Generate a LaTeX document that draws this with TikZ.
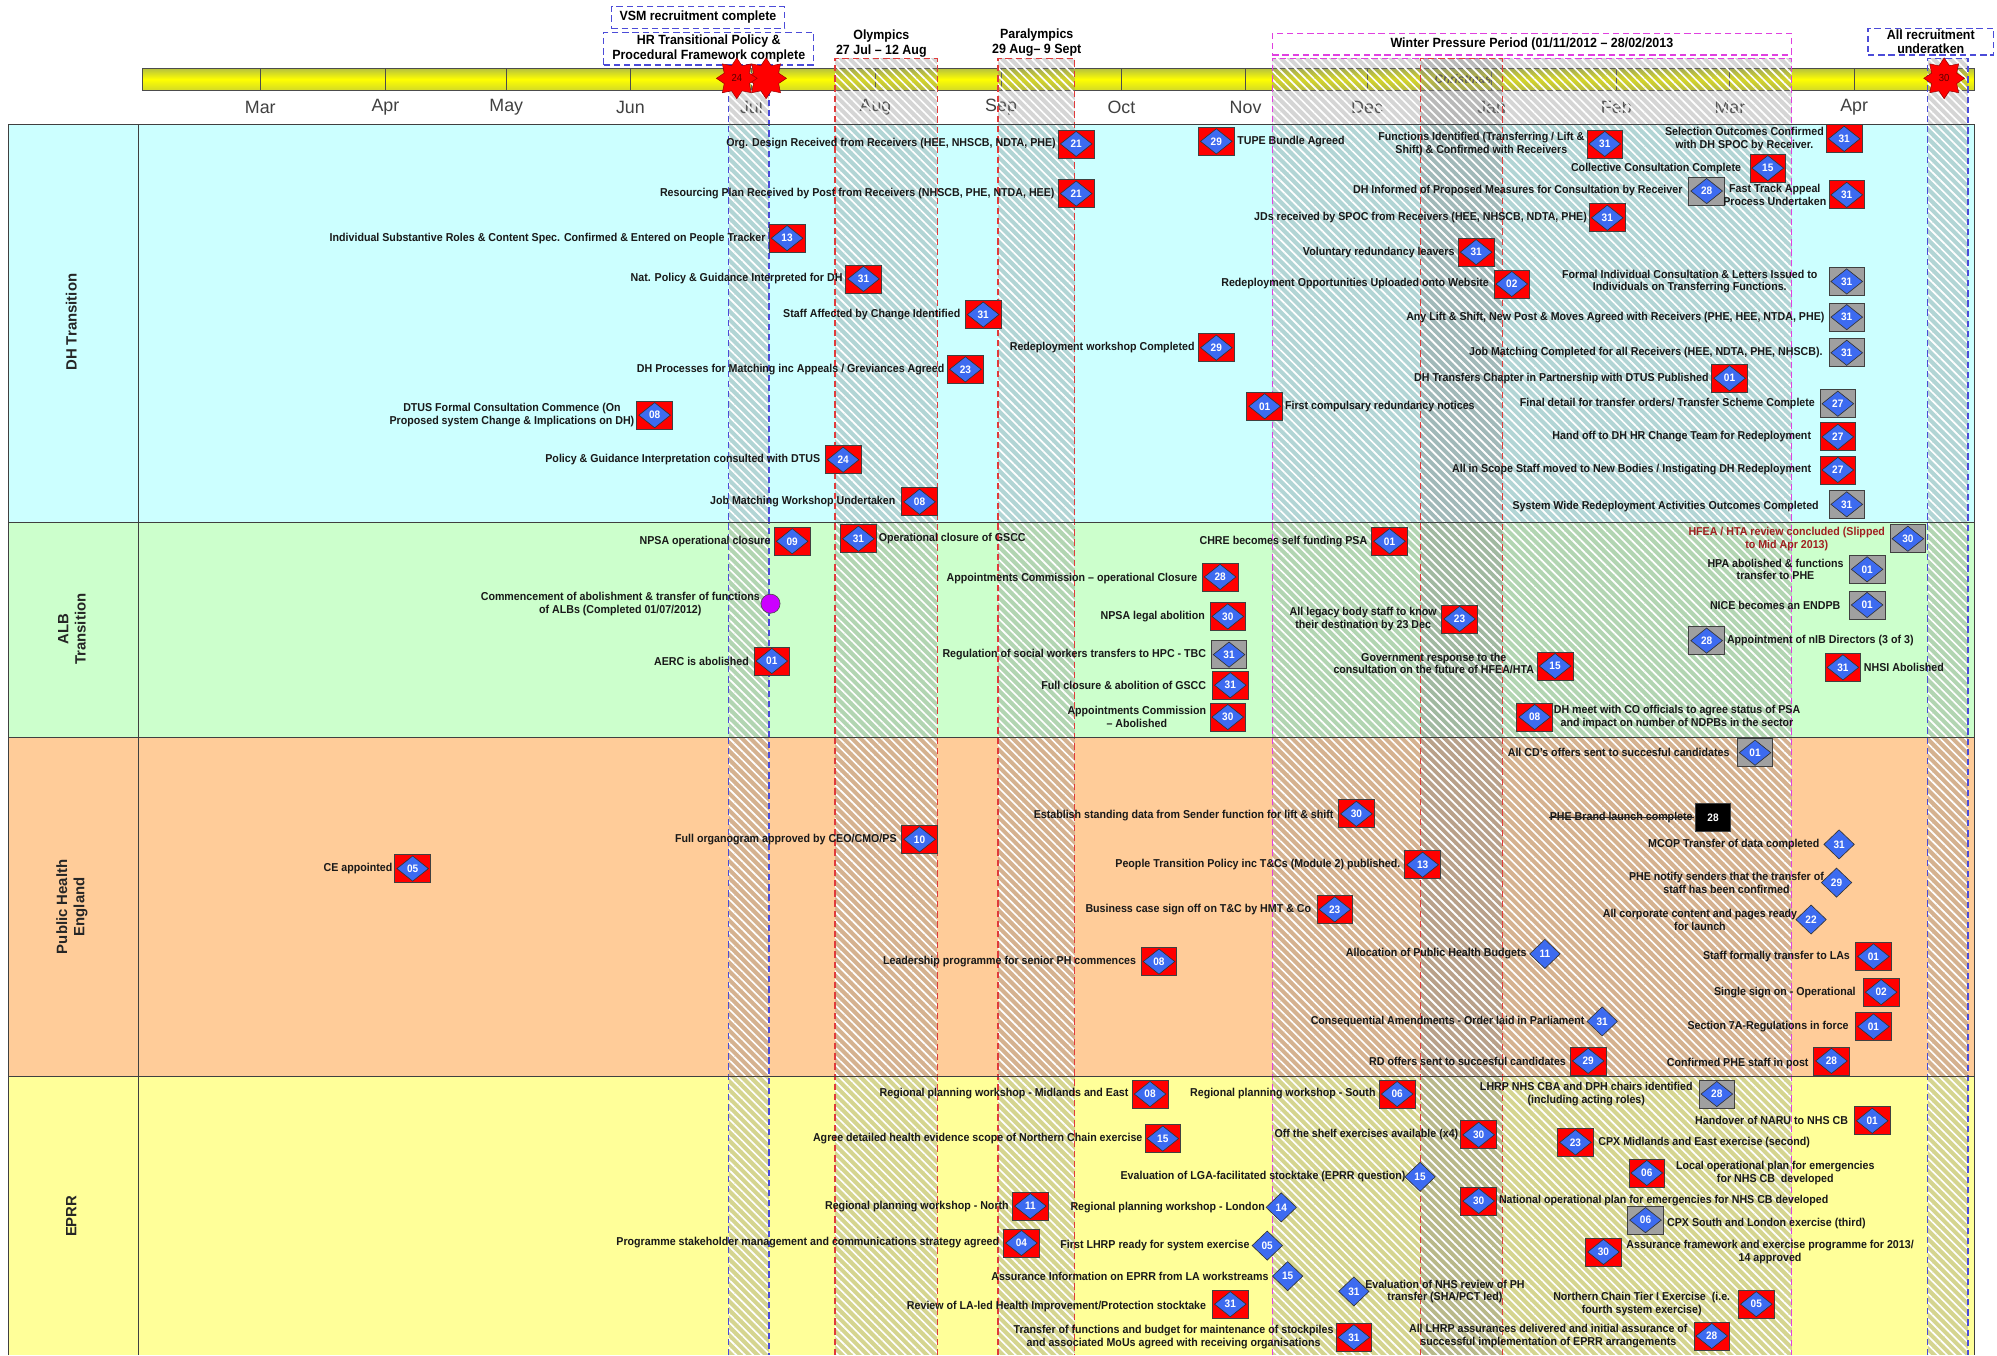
\documentclass[tikz,border=0pt]{standalone}
\usepackage{fontspec}
\usetikzlibrary{positioning, shapes.geometric, patterns.meta}

\newfontfamily\lblfam{Liberation Sans}[FakeStretch=0.93]
\newfontfamily\plainfam{Liberation Sans}

\newcommand{\lblfont}{\lblfam\bfseries\fontsize{9}{10}\selectfont}
\newcommand{\numfont}{\lblfam\bfseries\fontsize{8.5}{9}\selectfont}
\newcommand{\hdrfont}{\lblfam\bfseries\fontsize{10.5}{11.6}\selectfont}
\newcommand{\monfont}{\plainfam\fontsize{14}{16}\selectfont}
\newcommand{\lanefont}{\plainfam\bfseries\fontsize{11.7}{13.5}\selectfont}

\definecolor{dhcol}{HTML}{CCFFFF}
\definecolor{albcol}{HTML}{CCFFCC}
\definecolor{phecol}{HTML}{FFCC99}
\definecolor{eprrcol}{HTML}{FFFF99}
\definecolor{msred}{HTML}{FF0000}
\definecolor{msgrey}{HTML}{A0A0A0}
\definecolor{msblue}{HTML}{3D6BF0}
\definecolor{vsmblue}{HTML}{4B4BD8}
\definecolor{olyred}{HTML}{E03A3A}
\definecolor{wintermag}{HTML}{E040E0}
\definecolor{slipred}{HTML}{A02020}
\definecolor{barolive}{HTML}{B4C040}
\definecolor{albmag}{HTML}{CC00FF}

\tikzset{
  msbox/.style={draw=black!75, line width=0.6pt, minimum width=28pt, minimum height=22pt, inner sep=0pt},
  msdia/.style={diamond, draw=black!80, fill=msblue, line width=0.5pt, minimum width=25pt, minimum height=20pt, inner sep=0pt, text=white, font=\numfont},
  lonedia/.style={msdia, minimum width=24pt, minimum height=23pt},
  lbl/.style={font=\lblfont, text=black!90, inner sep=0.5pt, align=center},
  hdrbox/.style={font=\hdrfont, draw=#1, line width=1pt, dash pattern=on 5pt off 3pt, fill=white, inner sep=0.5pt, align=center},
  band/.style={line width=1pt, dash pattern=on 5pt off 3pt},
  lane/.style={draw=black!75, line width=1pt},
  redstar/.style={star, star points=8, star point ratio=1.5, minimum size=32pt, inner sep=0pt, fill=red, draw=red!60!black, text=red!35!black, font=\lblfam\fontsize{8}{8}\selectfont},
  lanelbl/.style={font=\lanefont, text=black!85, rotate=90, align=center},
  monthlbl/.style={font=\monfont, text=black!75}
}

% milestone: name, position, number, box colour
\newcommand{\mstone}[4]{%
  \node[msbox, fill=#4] (#1) at (#2) {};
  \node[msdia] (#1n) at (#1.center) {#3};}

\begin{document}
\begin{tikzpicture}[x=1pt, y=-1pt]
\useasboundingbox (0,0) rectangle (1568,1064);

% swim lanes
\fill[dhcol] (6.7,97.6) rectangle (1550.3,410);
\fill[albcol] (6.7,410) rectangle (1550.3,579);
\fill[phecol] (6.7,579) rectangle (1550.3,845.4);
\fill[eprrcol] (6.7,845.4) rectangle (1550.3,1064);

% timeline bar
\shade[top color=barolive, bottom color=barolive!60!yellow, middle color=yellow] (111.7,53.5) rectangle (1550.3,71);
\draw[black!70, line width=0.8pt] (111.7,53.5) rectangle (1550.3,71);
\foreach \mx/\mn [count=\i] in {204.4/Mar, 302.6/Apr, 397.5/May, 495/Jun, 590/Jul, 687.4/Aug, 786/Sep, 880.5/Oct, 978/Nov, 1073.4/Dec, 1171.2/Jan, 1269.1/Feb, 1358.3/Mar, 1455.8/Apr} {
  \draw[black!70, line width=0.8pt] (\mx,53.5) -- (\mx,71);
  \node[monthlbl] (mon\i) at (\mx,84.4) {\mn};
}
\node[font=\lblfam\bfseries\itshape\fontsize{9.8}{10}\selectfont, text=black!80!olive] (xmas) at (1148.8,61.8) {Christmas};

% hatched periods
\foreach \xa/\xb/\ya/\cc in {572.2/603.9/51/vsmblue, 655.7/735.9/45.8/olyred, 783.6/843.7/45.8/olyred, 999/1406.7/45.8/wintermag, 1115.4/1179.6/45.8/olyred, 1513.6/1545.3/45.8/vsmblue} {
  \fill[gray, fill opacity=0.33] (\xa,\ya) rectangle (\xb,1064);
  \fill[pattern={Lines[angle=-45, distance=4.7pt, line width=1.3pt]}, pattern color=white, fill opacity=0.7] (\xa,\ya) rectangle (\xb,1064);
  \draw[\cc, band] (\xa,1064) -- (\xa,\ya) -- (\xb,\ya) -- (\xb,1064);
}

% lane borders
\draw[lane] (6.7,1064) -- (6.7,97.6) -- (1550.3,97.6) -- (1550.3,1064);
\draw[lane] (108.6,97.6) -- (108.6,1064);
\draw[lane] (6.7,410) -- (1550.3,410);
\draw[lane] (6.7,579) -- (1550.3,579);
\draw[lane] (6.7,845.4) -- (1550.3,845.4);

\node[lanelbl] (lane1) at (56,253) {DH Transition};
\node[lanelbl] (lane2) at (56.5,494) {ALB\\Transition};
\node[lanelbl] (lane3) at (56.5,712) {Public Health\\England};
\node[lanelbl] (lane4) at (56,955) {EPRR};

% header
\node[hdrbox=vsmblue, minimum width=136pt, minimum height=17pt] (vsm) at (548,13.6) {VSM recruitment complete};
\node[hdrbox=vsmblue, minimum width=165pt, minimum height=25.6pt] (hrfw) at (556.5,38.2) {HR Transitional Policy \&\\Procedural Framework complete};
\node[font=\hdrfont, align=center] (oly) at (692,34) {Olympics\\27 Jul – 12 Aug};
\node[font=\hdrfont, align=center] (para) at (814,33.5) {Paralympics\\29 Aug– 9 Sept};
\node[hdrbox=wintermag, minimum width=407.7pt, minimum height=17pt] (winter) at (1202.8,34.7) {Winter Pressure Period (01/11/2012 – 28/02/2013};
\node[hdrbox=vsmblue, minimum width=98.5pt, minimum height=21pt] (allrec) at (1516,32.7) {All recruitment\\underatken};
\node[redstar] (star2) at (601.5,61.5) {};
\node[redstar] (star1) at (578.5,61.5) {24};
\node[redstar] (star3) at (1526.5,61.5) {30};

% DH Transition
\mstone{dh1}{845,113}{21}{msred}
\node[lbl, left=1pt of dh1] (dh1t) {Org. Design Received from Receivers (HEE, NHSCB, NDTA, PHE)};
\mstone{dh2}{845,152}{21}{msred}
\node[lbl, left=2pt of dh2] (dh2t) {Resourcing Plan Received by Post from Receivers (NHSCB, PHE, NTDA, HEE)};
\mstone{dh3}{618,187}{13}{msred}
\node[lbl, left=2pt of dh3] (dh3t) {Individual Substantive Roles \& Content Spec. Confirmed \& Entered on People Tracker};
\mstone{dh4}{678,219}{31}{msred}
\node[lbl, left=1.5pt of dh4] (dh4t) {Nat. Policy \& Guidance Interpreted for DH};
\mstone{dh5}{772,247}{31}{msred}
\node[lbl, left=3pt of dh5] (dh5t) {Staff Affected by Change Identified};
\mstone{dh6}{955,111}{29}{msred}
\node[lbl, right=1.5pt of dh6] (dh6t) {TUPE Bundle Agreed};
\mstone{dh7}{955,273}{29}{msred}
\node[lbl, left=2pt of dh7] (dh7t) {Redeployment workshop Completed};
\mstone{dh8}{758,290}{23}{msred}
\node[lbl, left=1.5pt of dh8] (dh8t) {DH Processes for Matching inc Appeals / Greviances Agreed};
\mstone{dh9}{993,319}{01}{msred}
\node[lbl, right=1pt of dh9] (dh9t) {First compulsary redundancy notices};
\mstone{dh10}{514,326}{08}{msred}
\node[lbl, left=1pt of dh10] (dh10t) {DTUS Formal Consultation Commence (On\\Proposed system Change \& Implications on DH)};
\mstone{dh11}{662,361}{24}{msred}
\node[lbl, left=3pt of dh11] (dh11t) {Policy \& Guidance Interpretation consulted with DTUS};
\mstone{dh12}{722,394}{08}{msred}
\node[lbl, left=4pt of dh12] (dh12t) {Job Matching Workshop Undertaken};
\mstone{dh13}{1260,113}{31}{msred}
\node[lbl, left=1pt of dh13] (dh13t) {Functions Identified (Transferring / Lift \&\\Shift) \& Confirmed with Receivers};
\mstone{dh14}{1448,109}{31}{msred}
\node[lbl, left=1pt of dh14] (dh14t) {Selection Outcomes Confirmed\\with DH SPOC by Receiver.};
\mstone{dh15}{1388,132}{15}{msred}
\node[lbl, left=6pt of dh15] (dh15t) {Collective Consultation Complete};
\mstone{dh16}{1340,150}{28}{msgrey}
\node[lbl, left=4pt of dh16] (dh16t) {DH Informed of Proposed Measures for Consultation by Receiver};
\mstone{dh17}{1450,153}{31}{msred}
\node[lbl, left=1pt of dh17] (dh17t) {Fast Track Appeal\\Process Undertaken};
\mstone{dh18}{1262,171}{31}{msred}
\node[lbl, left=1pt of dh18] (dh18t) {JDs received by SPOC from Receivers (HEE, NHSCB, NDTA, PHE)};
\mstone{dh19}{1159,198}{31}{msred}
\node[lbl, left=2pt of dh19] (dh19t) {Voluntary redundancy leavers};
\mstone{dh20}{1187,223}{02}{msred}
\node[lbl, left=3pt of dh20] (dh20t) {Redeployment Opportunities Uploaded onto Website};
\mstone{dh21}{1450,221}{31}{msgrey}
\node[lbl, left=8pt of dh21] (dh21t) {Formal Individual Consultation \& Letters Issued to\\Individuals on Transferring Functions.};
\mstone{dh22}{1450,249}{31}{msgrey}
\node[lbl, left=2.5pt of dh22] (dh22t) {Any Lift \& Shift, New Post \& Moves Agreed with Receivers (PHE, HEE, NTDA, PHE)};
\mstone{dh23}{1450,277}{31}{msgrey}
\node[lbl, left=4pt of dh23] (dh23t) {Job Matching Completed for all Receivers (HEE, NDTA, PHE, NHSCB).};
\mstone{dh24}{1358,297}{01}{msred}
\node[lbl, left=1.5pt of dh24] (dh24t) {DH Transfers Chapter in Partnership with DTUS Published};
\mstone{dh25}{1443,317}{27}{msgrey}
\node[lbl, left=3pt of dh25] (dh25t) {Final detail for transfer orders/ Transfer Scheme Complete};
\mstone{dh26}{1443,343}{27}{msred}
\node[lbl, left=6pt of dh26] (dh26t) {Hand off to DH HR Change Team for Redeployment};
\mstone{dh27}{1443,369}{27}{msred}
\node[lbl, left=6pt of dh27] (dh27t) {All in Scope Staff moved to New Bodies / Instigating DH Redeployment};
\mstone{dh28}{1450,396}{31}{msgrey}
\node[lbl, left=7pt of dh28, yshift=-2pt] (dh28t) {System Wide Redeployment Activities Outcomes Completed};

% ALB Transition
\mstone{alb1}{622,425}{09}{msred}
\node[lbl, left=2pt of alb1] (alb1t) {NPSA operational closure};
\mstone{alb2}{674,423}{31}{msred}
\node[lbl, right=1pt of alb2] (alb2t) {Operational closure of GSCC};
\mstone{alb3}{958,453}{28}{msred}
\node[lbl, left=3pt of alb3, yshift=-1.5pt] (alb3t) {Appointments Commission – operational Closure};
\node[circle, fill=albmag, draw=black!70, line width=0.5pt, minimum size=15pt, inner sep=0pt] (alb4) at (605,474) {};
\node[lbl, left=0pt of alb4] (alb4t) {Commencement of abolishment \& transfer of functions\\of ALBs (Completed 01/07/2012)};
\mstone{alb5}{964,484}{30}{msred}
\node[lbl, left=3pt of alb5] (alb5t) {NPSA legal abolition};
\mstone{alb6}{606,519}{01}{msred}
\node[lbl, left=3pt of alb6] (alb6t) {AERC is abolished};
\mstone{alb7}{965,514}{31}{msgrey}
\node[lbl, left=3pt of alb7] (alb7t) {Regulation of social workers transfers to HPC - TBC};
\mstone{alb8}{966,538}{31}{msred}
\node[lbl, left=4pt of alb8] (alb8t) {Full closure \& abolition of GSCC};
\mstone{alb9}{964,563}{30}{msred}
\node[lbl, left=2pt of alb9] (alb9t) {Appointments Commission\\– Abolished};
\mstone{alb10}{1091,425}{01}{msred}
\node[lbl, left=2.5pt of alb10] (alb10t) {CHRE becomes self funding PSA};
\mstone{alb11}{1146,486}{23}{msred}
\node[lbl, left=3pt of alb11] (alb11t) {All legacy body staff to know\\their destination by 23 Dec};
\mstone{alb12}{1221,523}{15}{msred}
\node[lbl, left=1.5pt of alb12, yshift=2pt] (alb12t) {Government response to the\\consultation on the future of HFEA/HTA};
\mstone{alb13}{1498,423}{30}{msgrey}
\node[lbl, text=slipred, left=3pt of alb13] (alb13t) {HFEA / HTA review concluded (Slipped\\to Mid Apr 2013)};
\mstone{alb14}{1466,447}{01}{msgrey}
\node[lbl, left=3.5pt of alb14] (alb14t) {HPA abolished \& functions\\transfer to PHE};
\mstone{alb15}{1466,475}{01}{msgrey}
\node[lbl, left=6pt of alb15] (alb15t) {NICE becomes an ENDPB};
\mstone{alb16}{1340,503}{28}{msgrey}
\node[lbl, right=1pt of alb16] (alb16t) {Appointment of nIB Directors (3 of 3)};
\mstone{alb17}{1447,524}{31}{msred}
\node[lbl, right=1.5pt of alb17] (alb17t) {NHSI Abolished};
\mstone{alb18}{1205,563}{08}{msred}
\node[lbl, right=0pt of alb18] (alb18t) {DH meet with CO officials to agree status of PSA\\and impact on number of NDPBs in the sector};

% Public Health England
\mstone{phe1}{1378,591}{01}{msgrey}
\node[lbl, left=5pt of phe1] (phe1t) {All CD’s offers sent to succesful candidates};
\node[msbox, fill=black, text=white, font=\numfont] (phe2) at (1345,642) {28};
\node[lbl, left=1pt of phe2] (phe2t) {PHE Brand launch complete};
\draw[black!85, line width=0.7pt] (phe2t.west) -- (phe2t.east);
\node[lonedia] (phe3) at (1444,663) {31};
\node[lbl, left=2.5pt of phe3] (phe3t) {MCOP Transfer of data completed};
\node[lonedia] (phe4) at (1442,693) {29};
\node[lbl, left=-3pt of phe4] (phe4t) {PHE notify senders that the transfer of\\staff has been confirmed};
\node[lonedia] (phe5) at (1422,722) {22};
\node[lbl, left=-2pt of phe5] (phe5t) {All corporate content and pages ready\\for launch};
\node[lonedia] (phe6) at (1213,749) {11};
\node[lbl, left=1.5pt of phe6] (phe6t) {Allocation of Public Health Budgets};
\mstone{phe7}{1471,751}{01}{msred}
\node[lbl, left=3.5pt of phe7] (phe7t) {Staff formally transfer to LAs};
\mstone{phe8}{1477,779}{02}{msred}
\node[lbl, left=5pt of phe8] (phe8t) {Single sign on - Operational};
\mstone{phe9}{722,659}{10}{msred}
\node[lbl, left=3pt of phe9] (phe9t) {Full organogram approved by CEO/CMO/PS};
\mstone{phe10}{1065,639}{30}{msred}
\node[lbl, left=3pt of phe10, yshift=-1.5pt] (phe10t) {Establish standing data from Sender function for lift \& shift};
\mstone{phe11}{1117,679}{13}{msred}
\node[lbl, left=2.5pt of phe11] (phe11t) {People Transition Policy inc T\&Cs (Module 2) published.};
\mstone{phe12}{1048,714}{23}{msred}
\node[lbl, left=3.5pt of phe12] (phe12t) {Business case sign off on T\&C by HMT \& Co};
\mstone{phe13}{910,755}{08}{msred}
\node[lbl, left=3pt of phe13] (phe13t) {Leadership programme for senior PH commences};
\mstone{phe14}{324,682}{05}{msred}
\node[lbl, left=1pt of phe14] (phe14t) {CE appointed};
\node[lonedia] (phe15) at (1258,802) {31};
\node[lbl, left=1pt of phe15] (phe15t) {Consequential Amendments - Order laid in Parliament};
\mstone{phe16}{1471,806}{01}{msred}
\node[lbl, left=4.5pt of phe16] (phe16t) {Section 7A-Regulations in force};
\mstone{phe17}{1247,833}{29}{msred}
\node[lbl, left=2.5pt of phe17] (phe17t) {RD offers sent to succesful candidates};
\mstone{phe18}{1438,833}{28}{msred}
\node[lbl, left=3pt of phe18, yshift=-2pt] (phe18t) {Confirmed PHE staff in post};

% EPRR
\mstone{ep1}{903,859}{08}{msred}
\node[lbl, left=2pt of ep1] (ep1t) {Regional planning workshop - Midlands and East};
\mstone{ep2}{1097,859}{06}{msred}
\node[lbl, left=2pt of ep2] (ep2t) {Regional planning workshop - South};
\mstone{ep3}{913,894}{15}{msred}
\node[lbl, left=1pt of ep3] (ep3t) {Agree detailed health evidence scope of Northern Chain exercise};
\mstone{ep4}{1161,891}{30}{msred}
\node[lbl, left=1pt of ep4] (ep4t) {Off the shelf exercises available (x4)};
\node[lonedia] (ep5) at (1115,924) {15};
\node[lbl, left=-1.5pt of ep5] (ep5t) {Evaluation of LGA-facilitated stocktake (EPRR question)};
\mstone{ep6}{809,947}{11}{msred}
\node[lbl, left=2pt of ep6] (ep6t) {Regional planning workshop - North};
\node[lonedia] (ep7) at (1006,948) {14};
\node[lbl, left=0pt of ep7] (ep7t) {Regional planning workshop - London};
\mstone{ep8}{802,976}{04}{msred}
\node[lbl, left=2.5pt of ep8] (ep8t) {Programme stakeholder management and communications strategy agreed};
\node[lonedia] (ep9) at (995,978) {05};
\node[lbl, left=1pt of ep9] (ep9t) {First LHRP ready for system exercise};
\node[lonedia] (ep10) at (1011,1002) {15};
\node[lbl, left=2pt of ep10] (ep10t) {Assurance Information on EPRR from LA workstreams};
\mstone{ep11}{966,1024}{31}{msred}
\node[lbl, left=4pt of ep11, yshift=-1.5pt] (ep11t) {Review of LA-led Health Improvement/Protection stocktake};
\mstone{ep12}{1063,1050}{31}{msred}
\node[lbl, left=1pt of ep12] (ep12t) {Transfer of functions and budget for maintenance of stockpiles\\and associated MoUs agreed with receiving organisations};
\mstone{ep13}{1348,859}{28}{msgrey}
\node[lbl, left=4pt of ep13] (ep13t) {LHRP NHS CBA and DPH chairs identified\\(including acting roles)};
\mstone{ep14}{1470,880}{01}{msred}
\node[lbl, left=4pt of ep14] (ep14t) {Handover of NARU to NHS CB};
\mstone{ep15}{1237,897}{23}{msred}
\node[lbl, right=3pt of ep15] (ep15t) {CPX Midlands and East exercise (second)};
\mstone{ep16}{1293,921}{06}{msred}
\node[lbl, right=8pt of ep16] (ep16t) {Local operational plan for emergencies\\for NHS CB\ \ developed};
\mstone{ep17}{1161,943}{30}{msred}
\node[lbl, right=1pt of ep17] (ep17t) {National operational plan for emergencies for NHS CB developed};
\mstone{ep18}{1292,958}{06}{msgrey}
\node[lbl, right=2pt of ep18, yshift=-2.5pt] (ep18t) {CPX South and London exercise (third)};
\mstone{ep19}{1259,983}{30}{msred}
\node[lbl, right=3pt of ep19] (ep19t) {Assurance framework and exercise programme for 2013/\\14 approved};
\node[lonedia] (ep20) at (1063,1014) {31};
\node[lbl, right=-4pt of ep20] (ep20t) {Evaluation of NHS review of PH\\transfer (SHA/PCT led)};
\mstone{ep21}{1379,1024}{05}{msred}
\node[lbl, left=5.5pt of ep21] (ep21t) {Northern Chain Tier I Exercise\ \ (i.e.\\fourth system exercise)};
\mstone{ep22}{1344,1049}{28}{msred}
\node[lbl, left=4pt of ep22] (ep22t) {All LHRP assurances delivered and initial assurance of\\successful implementation of EPRR arrangements};
\end{tikzpicture}
\end{document}
